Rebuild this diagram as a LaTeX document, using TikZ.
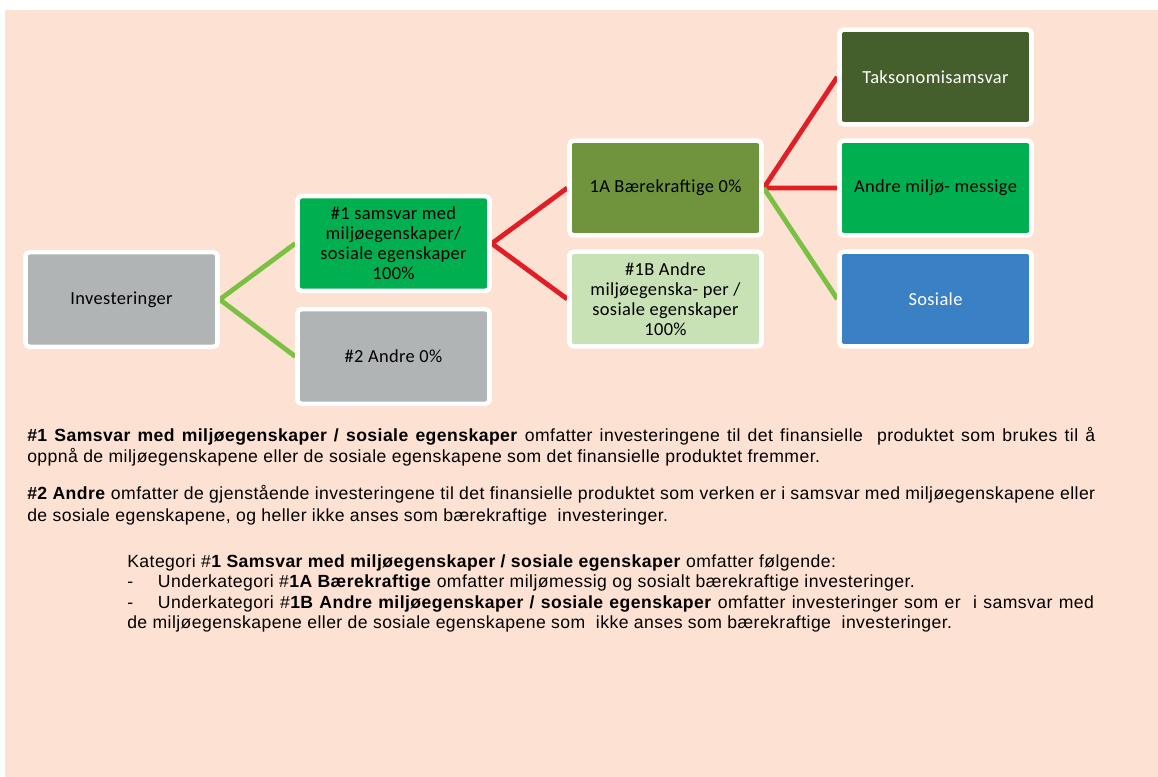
\documentclass[tikz,border=0pt]{standalone}
\usepackage{xcolor}
\usepackage{fontspec}
\usepackage{tikz}
\setmainfont{Liberation Sans}[LetterSpace=2.5]
\newfontfamily\boksfont{Carlito}[LetterSpace=2]
\usetikzlibrary{backgrounds}
\definecolor{fersken}{RGB}{253,225,210}
\definecolor{boksgraa}{RGB}{177,180,180}
\definecolor{sterkgronn}{RGB}{0,176,80}
\definecolor{olivengronn}{RGB}{112,148,62}
\definecolor{lysgronn}{RGB}{200,225,181}
\definecolor{morkgronn}{RGB}{68,95,44}
\definecolor{sosialblaa}{RGB}{58,128,196}
\definecolor{linjerod}{RGB}{225,30,38}
\definecolor{linjegronn}{RGB}{122,193,67}

\tikzset{
  boks/.style={draw=white, line width=3.4pt, rounded corners=3pt, minimum width=144pt,
    minimum height=71pt, inner sep=2pt, align=center,
    font=\boksfont\fontsize{13.8}{15}\selectfont},
  gronnlinje/.style={line width=3.6pt, draw=linjegronn},
  rodlinje/.style={line width=3.6pt, draw=linjerod},
  tekst/.style={anchor=base west, inner sep=0pt, font=\fontsize{13.2}{15.75}\selectfont}
}

\begin{document}
\begin{tikzpicture}[x=0.75pt,y=-0.75pt]
\useasboundingbox (0,0) rectangle (1158,777);

% boksene
\node[boks, fill=boksgraa] (inv) at (121.5,299.5) {Investeringer};
\node[boks, fill=sterkgronn] (s1) at (393.5,243.5) {\#1 samsvar med\\ milj\o egenskaper/\\ sosiale egenskaper\\ 100\%};
\node[boks, fill=boksgraa] (s2) at (393.5,356.5) {\#2 Andre 0\%};
\node[boks, fill=olivengronn] (a1) at (665.5,188) {1A B\ae rekraftige 0\%};
\node[boks, fill=lysgronn] (b1) at (665.5,299) {\#1B Andre\\ milj\o egenska- per /\\ sosiale egenskaper\\ 100\%};
\node[boks, fill=morkgronn, text=white] (tax) at (935.5,77) {Taksonomisamsvar};
\node[boks, fill=sterkgronn] (env) at (935.5,188) {Andre milj\o- messige};
\node[boks, fill=sosialblaa, text=white] (soc) at (935.5,299) {Sosiale};

% forklaring
\node[tekst] (p1a) at (27,442) {\makebox[801pt][s]{\textbf{\#1 Samsvar med milj\o egenskaper / sosiale egenskaper} omfatter investeringene til det finansielle\ \ produktet som brukes til \aa}};
\node[tekst] (p1b) at (27,463) {oppn\aa\ de milj\o egenskapene eller de sosiale egenskapene som det finansielle produktet fremmer.};
\node[tekst] (p2a) at (27,500) {\makebox[801pt][s]{\textbf{\#2 Andre} omfatter de gjenst\aa ende investeringene til det finansielle produktet som verken er i samsvar med milj\o egenskapene eller}};
\node[tekst] (p2b) at (27,522) {de sosiale egenskapene, og heller ikke anses som b\ae rekraftige\ \ investeringer.};
\node[tekst] (k1) at (127,567) {Kategori \#\textbf{1 Samsvar med milj\o egenskaper / sosiale egenskaper} omfatter f\o lgende:};
\node[tekst] (k2) at (127,587) {\makebox[23pt][l]{-}Underkategori \#\textbf{1A B\ae rekraftige} omfatter milj\o messig og sosialt b\ae rekraftige investeringer.};
\node[tekst] (k3) at (127,608) {\makebox[725pt][s]{\makebox[23pt][l]{-}Underkategori \#\textbf{1B Andre milj\o egenskaper / sosiale egenskaper} omfatter investeringer som er\ \ i samsvar med}};
\node[tekst] (k4) at (127,628) {de milj\o egenskapene eller de sosiale egenskapene som\ \ ikke anses som b\ae rekraftige\ \ investeringer.};

\begin{scope}[on background layer]
\fill[white] (0,0) rectangle (1158,777);
\fill[fersken] (5,10) rectangle (1158,777);
% linjene
\draw[gronnlinje] (s1.west) -- (inv.east) -- (s2.west);
\draw[rodlinje] (a1.west) -- (s1.east) -- (b1.west);
\draw[rodlinje] (tax.west) -- (a1.east) -- (env.west);
\draw[gronnlinje] (a1.east) -- (soc.west);
\end{scope}
\end{tikzpicture}
\end{document}
